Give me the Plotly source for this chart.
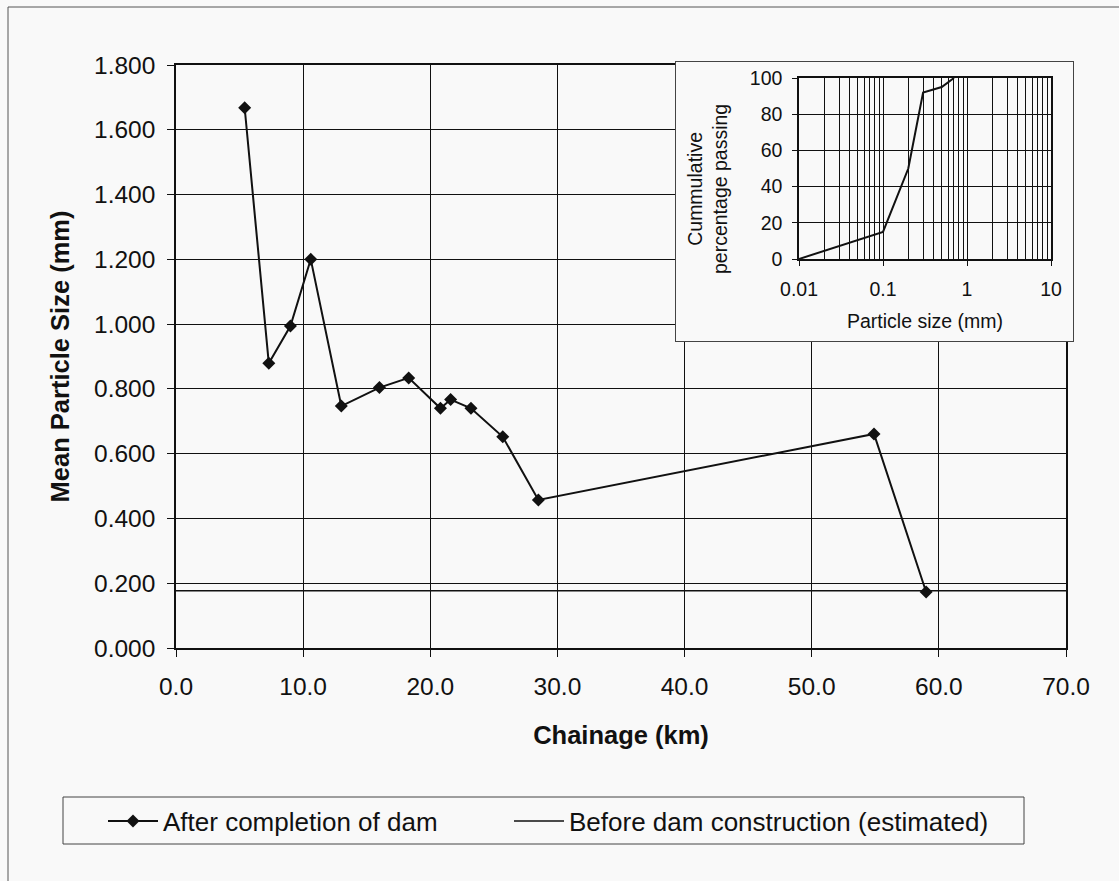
import plotly.graph_objects as go

# Mean particle size along the river after the dam was completed
chainage_km = [5.4, 7.3, 9.0, 10.6, 13.0, 16.0, 18.3, 20.8, 21.6, 23.2, 25.7, 28.5, 54.9, 59.0]
mean_size_mm = [1.668, 0.879, 0.994, 1.200, 0.747, 0.804, 0.834, 0.740, 0.767, 0.740, 0.652, 0.457, 0.661, 0.173]

# Estimated mean particle size before construction (constant along the reach)
before_km = [0.0, 70.0]
before_mm = [0.177, 0.177]

# Grading curve shown in the inset
grain_size_mm = [0.01, 0.1, 0.2, 0.3, 0.5, 0.7]
passing_pct = [0, 15, 50, 92, 95, 100]

# Axis ticks
x_ticks = [0, 10, 20, 30, 40, 50, 60, 70]
y_ticks = [0.0, 0.2, 0.4, 0.6, 0.8, 1.0, 1.2, 1.4, 1.6, 1.8]
inset_x_ticks = [0.01, 0.1, 1, 10]
inset_x_labels = ["0.01", "0.1", "1", "10"]
inset_minor = [m * d for d in (0.01, 0.1, 1) for m in range(2, 10)]
inset_y_ticks = [0, 20, 40, 60, 80, 100]

W, H = 1119, 881
ML, MR, MT, MB = 176, 46, 62, 233
PW, PH = W - ML - MR, H - MT - MB


def px_x(p):
    return (p - ML) / PW


def px_y(p):
    return (H - MB - p) / PH


INK = "#111111"
BG = "#f9f9f9"
FONT = "Liberation Sans, Arial, sans-serif"

fig = go.Figure()

fig.add_trace(go.Scatter(
    x=chainage_km, y=mean_size_mm, mode="lines+markers",
    name="After completion of dam",
    line=dict(color=INK, width=2),
    marker=dict(symbol="diamond", size=10, color=INK),
    legend="legend",
))
fig.add_trace(go.Scatter(
    x=before_km, y=before_mm, mode="lines",
    name="Before dam construction (estimated)",
    line=dict(color=INK, width=1.5),
    legend="legend2",
))
# empty trace that holds the framed panel behind the inset
fig.add_trace(go.Scatter(x=[], y=[], xaxis="x2", yaxis="y2", showlegend=False))
fig.add_trace(go.Scatter(
    x=grain_size_mm, y=passing_pct, xaxis="x3", yaxis="y3", mode="lines",
    line=dict(color=INK, width=2), showlegend=False, hoverinfo="x+y",
))

grid = dict(showgrid=True, gridcolor=INK, gridwidth=1.2, zeroline=False,
            showline=True, linecolor=INK, linewidth=1.5, mirror=True,
            ticks="outside", tickcolor=INK, tickwidth=1.2)

fig.update_layout(
    width=W, height=H, autosize=False,
    margin=dict(l=ML, r=MR, t=MT, b=MB, autoexpand=False),
    paper_bgcolor=BG, plot_bgcolor=BG,
    font=dict(family=FONT, color=INK),
    xaxis=dict(
        domain=[0, px_x(1066)], range=[0, 70], tickvals=x_ticks, tickformat=".1f",
        ticklen=7, tickfont=dict(size=24.5), ticklabelstandoff=9,
        title=dict(text="Chainage (km)", font=dict(size=25.5, weight="bold"), standoff=27),
        **grid,
    ),
    yaxis=dict(
        domain=[0, px_y(65)], range=[0, 1.8], tickvals=y_ticks, tickformat=".3f",
        ticklen=7, tickfont=dict(size=24.5), ticklabelstandoff=7,
        title=dict(text="Mean Particle Size (mm)", font=dict(size=25.5, weight="bold"), standoff=17),
        **grid,
    ),
    xaxis2=dict(
        domain=[px_x(676), 1], anchor="y2", range=[0, 1], showgrid=False, zeroline=False,
        showticklabels=False, ticks="", showline=True, mirror=True,
        linecolor="#444444", linewidth=1, fixedrange=True,
    ),
    yaxis2=dict(
        domain=[px_y(341), 1], anchor="x2", range=[0, 1], showgrid=False, zeroline=False,
        showticklabels=False, ticks="", showline=True, mirror=True,
        linecolor="#444444", linewidth=1, fixedrange=True,
    ),
    xaxis3=dict(
        domain=[px_x(799), px_x(1051)], anchor="y3", type="log", range=[-2, 1],
        tickvals=inset_x_ticks, ticktext=inset_x_labels, ticklen=5,
        tickfont=dict(size=19.5), ticklabelstandoff=7,
        minor=dict(tickvals=inset_minor, showgrid=True, gridcolor=INK, gridwidth=1.2, ticks=""),
        title=dict(text="Particle size (mm)", font=dict(size=19.5), standoff=15),
        **grid,
    ),
    yaxis3=dict(
        domain=[px_y(259), px_y(78)], anchor="x3", range=[0, 100], tickvals=inset_y_ticks,
        ticklen=5, tickfont=dict(size=19.5), ticklabelstandoff=6,
        **grid,
    ),
    legend=dict(
        x=px_x(103), y=px_y(821), xanchor="left", yanchor="middle", orientation="h",
        bgcolor="rgba(0,0,0,0)", borderwidth=0, font=dict(size=26), itemwidth=50,
    ),
    legend2=dict(
        x=px_x(509), y=px_y(821), xanchor="left", yanchor="middle", orientation="h",
        bgcolor="rgba(0,0,0,0)", borderwidth=0, font=dict(size=26), itemwidth=50,
    ),
    annotations=[dict(
        text="Cummulative<br>percentage passing", xref="paper", yref="paper",
        x=px_x(707), y=px_y(189), xanchor="center", yanchor="middle",
        textangle=-90, showarrow=False, font=dict(size=19.5),
    )],
    shapes=[
        # outer frame of the figure
        dict(type="rect", xref="paper", yref="paper",
             x0=px_x(8), x1=px_x(1135), y0=px_y(900), y1=px_y(7),
             line=dict(color="#555555", width=1), layer="below"),
        # legend frame
        dict(type="rect", xref="paper", yref="paper",
             x0=px_x(63), x1=px_x(1024), y0=px_y(844), y1=px_y(797),
             line=dict(color="#444444", width=1), layer="below"),
    ],
    showlegend=True,
)

fig.write_html("out.html")
